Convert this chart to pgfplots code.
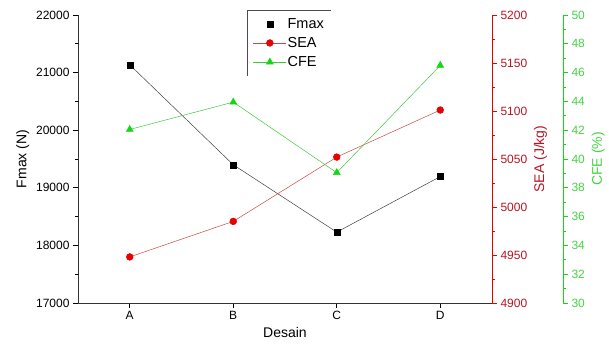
\documentclass[border=0pt]{standalone}
\usepackage{fontspec}
\setmainfont{Liberation Sans}
\usepackage{pgfplots}
\pgfplotsset{compat=1.18}
\definecolor{seared}{RGB}{230,0,0}
\definecolor{sealine}{RGB}{205,70,70}
\definecolor{sealabel}{RGB}{185,20,35}
\definecolor{cfegreen}{RGB}{20,215,20}
\definecolor{cfeline}{RGB}{60,200,60}
\definecolor{cfelabel}{RGB}{70,210,70}
\begin{document}
\begin{tikzpicture}
\path[use as bounding box] (-78pt,-49pt) rectangle (531pt,303pt);
\pgfplotsset{
 every axis/.append style={scale only axis, width=414pt, height=288pt,
  xmin=-0.5, xmax=3.5,
  /pgf/number format/assume math mode=true,
  /pgf/number format/1000 sep={},
  scaled y ticks=false,
  tick label style={font=\fontsize{12}{14}\selectfont},
  label style={font=\fontsize{14}{16}\selectfont},
  tick align=outside, major tick length=5pt, minor tick length=3pt,
  axis line style={line width=0.9pt},
  every tick/.style={line width=0.8pt},
  clip=false},
}
% Fmax axis
\begin{axis}[at={(0pt,0pt)}, anchor=south west,
 axis x line*=bottom, axis y line*=left,
 axis line style={black!80, line width=0.9pt},
 ymin=17000, ymax=22000, ytick={17000,18000,...,22000}, minor y tick num=1,
 xtick={0,1,2,3}, xticklabels={A,B,C,D},
 xlabel={Desain}, ylabel={Fmax (N)},
]
\addplot[black!75, line width=0.5pt, mark=square*, mark size=3pt, mark options={black,solid}]
 coordinates {(0,21135)(1,19400)(2,18230)(3,19195)};
\end{axis}
% SEA axis
\begin{axis}[at={(0pt,0pt)}, anchor=south west,
 axis x line=none, axis y line*=right,
 ymin=4900, ymax=5200, ytick={4900,4950,...,5200}, minor y tick num=1,
 axis line style={seared, line width=0.9pt},
 every tick/.style={seared, line width=0.8pt},
 yticklabel style={text=sealabel},
 ylabel={SEA (J/kg)}, ylabel style={text=sealabel},
]
\addplot[sealine, line width=0.5pt, mark=*, mark size=3.4pt, mark options={seared,solid}]
 coordinates {(0,4948)(1,4985)(2,5052)(3,5101)};
\end{axis}
% CFE plot axis (hidden axes)
\begin{axis}[at={(0pt,0pt)}, anchor=south west,
 hide x axis, hide y axis,
 ymin=30, ymax=50,
 legend image code/.code={\draw[mark repeat=2,mark phase=2] plot coordinates {(0pt,0pt) (16.5pt,0pt) (33pt,0pt)};},
 legend style={name=leg, at={(axis description cs:0.408,1.0174)}, anchor=north west,
  draw=none, fill=none, font=\fontsize{14.5}{16}\selectfont, row sep=5.5pt,
  inner xsep=6pt, inner ysep=7pt,
  nodes={inner sep=1pt}},
 legend cell align=left,
]
\addlegendimage{only marks, mark=square*, mark size=3pt, black}
\addlegendentry{Fmax}
\addlegendimage{sealine, line width=0.5pt, mark=*, mark size=3.4pt, mark options={seared}}
\addlegendentry{SEA}
\addplot[cfeline, line width=0.5pt, mark=triangle*, mark size=4pt, mark options={cfegreen,solid}]
 coordinates {(0,42.05)(1,43.95)(2,39.05)(3,46.5)};
\addlegendentry{CFE}
\end{axis}
% CFE offset y axis
\begin{axis}[at={(71pt,0pt)}, anchor=south west,
 axis x line=none, axis y line*=right,
 ymin=30, ymax=50, ytick={30,32,...,50}, minor y tick num=1,
 axis line style={cfegreen, line width=0.9pt},
 every tick/.style={cfegreen, line width=0.8pt},
 yticklabel style={text=cfelabel},
 ylabel={CFE (\%)}, ylabel style={text=cfelabel},
]
\end{axis}
\draw[black!70, line width=0.6pt] (leg.south west) -- (leg.north west) -- (leg.north east);
\end{tikzpicture}
\end{document}
